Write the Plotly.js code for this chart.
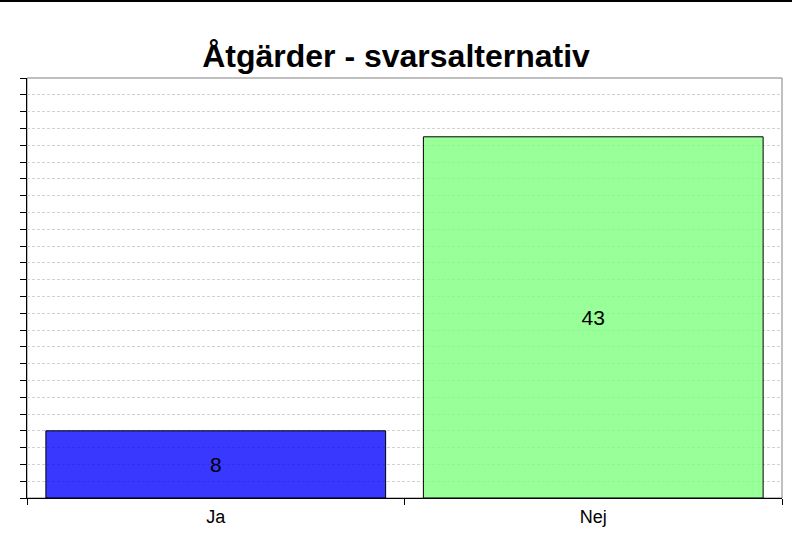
<!DOCTYPE html>
<html>
<head>
<meta charset="utf-8">
<script src="https://cdn.plot.ly/plotly-3.0.1.min.js"></script>
<style>
html,body{margin:0;padding:0;background:#fff;}
#chart{width:792px;height:542px;box-sizing:border-box;border-top:2px solid #000;}
</style>
</head>
<body>
<div id="chart"></div>
<script>
const categories = ["Ja", "Nej"];
const values = [8, 43];
const barColors = ["rgba(0,0,255,0.78)", "rgba(128,255,128,0.8)"];
const chartTitle = "Åtgärder - svarsalternativ";

const trace = {
  type: "bar",
  x: categories,
  y: values,
  text: values.map(String),
  textposition: "inside",
  insidetextanchor: "middle",
  textangle: 0,
  textfont: {family: "Liberation Sans, Arial, sans-serif", size: 21, color: "#000"},
  marker: {color: barColors, line: {color: "#000", width: 1}},
  hoverinfo: "none"
};

const layout = {
  width: 792,
  height: 540,
  margin: {l: 27, r: 10, t: 76, b: 44, pad: 0},
  paper_bgcolor: "#fff",
  plot_bgcolor: "#fff",
  showlegend: false,
  bargap: 0.1,
  font: {family: "Liberation Sans, Arial, sans-serif", color: "#000"},
  title: {
    text: "<b>" + chartTitle + "</b>",
    font: {family: "Liberation Sans, Arial, sans-serif", size: 32, color: "#000"},
    x: 0.5, xanchor: "center",
    y: 0.9, yanchor: "middle", yref: "container"
  },
  xaxis: {
    type: "category",
    showgrid: false,
    showline: true, linecolor: "#000", linewidth: 1,
    ticks: "outside", tickson: "boundaries", ticklen: 6, tickcolor: "#000", tickwidth: 1,
    tickfont: {size: 18, color: "#000"},
    ticklabelstandoff: 2,
    zeroline: false
  },
  yaxis: {
    range: [0, 50], dtick: 2, tick0: 0,
    showticklabels: false,
    showgrid: true, gridcolor: "#d2d2d2", griddash: "3px,2px", gridwidth: 1,
    showline: true, linecolor: "#000", linewidth: 1,
    ticks: "outside", ticklen: 6, tickcolor: "#000", tickwidth: 1,
    zeroline: false
  },
  shapes: [{
    type: "rect", xref: "paper", yref: "paper", x0: 0, x1: 1, y0: 0, y1: 1,
    line: {color: "#808080", width: 1}, layer: "below"
  }]
};

Plotly.newPlot("chart", [trace], layout, {displayModeBar: false, staticPlot: true});
</script>
</body>
</html>
